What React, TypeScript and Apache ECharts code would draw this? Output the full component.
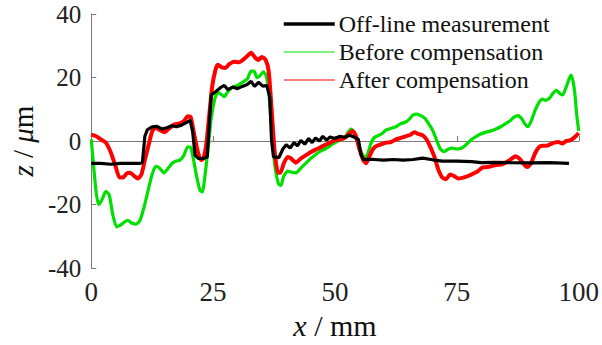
import React, { useEffect, useRef } from "react";
import * as echarts from "echarts";

const xTicks = [0, 25, 50, 75, 100];
const yTicks = [-40, -20, 0, 20, 40];
const seriesNames = ["Off-line measurement", "Before compensation", "After compensation"];

const offline: [number, number][] = [
  [0,-7],[2,-7],[4,-7.3],[6,-7],[8,-7],[10,-7],[10.5,-6.8],[11,1.5],[11.5,3.5],[12.5,4.5],[13.5,4.6],[14.5,3.8],[15.5,4.2],[16.5,4.8],[17.5,4.5],[18.5,5],[19.5,5.8],[20.3,6.5],[20.8,3],[21.3,-4.5],[22,-5.5],[23,-5.5],[23.8,-5],[24.2,5],[24.6,14.5],[25.5,15.5],[26.5,16.8],[27.3,17.5],[28,16.2],[29,17],[30,16.5],[31,17.2],[32,17.8],[32.8,18.8],[33.5,17.2],[34.3,18.5],[35.2,17.3],[36,17.5],[36.6,14],[37,0],[37.4,-5],[38.5,-5.2],[39.3,-2.5],[40,-1.2],[40.8,-2.2],[41.6,-0.5],[42.3,-1.5],[43,0.2],[43.8,-1],[44.6,0.8],[45.3,-0.5],[46,1],[46.8,0],[47.5,1.5],[48.3,0.3],[49,1.3],[50,0.8],[51,1.5],[52,1.2],[53,1.8],[54,1.2],[54.8,0.5],[55.3,-4],[55.8,-5.8],[58,-5.8],[60,-6],[62,-5.8],[64,-6],[66,-5.8],[68,-5.4],[70,-5.9],[72,-6.3],[75,-6.3],[78,-6.5],[80,-6.8],[83,-6.7],[86,-6.8],[90,-6.9],[94,-6.8],[98,-7]
];

const before: [number, number][] = [
  [0,0.5],[0.5,-8],[1,-16],[1.5,-20],[2.2,-18.5],[3,-15.8],[3.7,-17],[4.4,-23],[5.2,-27],[6,-26.5],[6.8,-25.5],[7.5,-25],[8.3,-25.8],[9.2,-26.2],[10,-25],[10.8,-21],[11.6,-16],[12.4,-11],[13.2,-8],[14,-8.5],[14.9,-10],[15.8,-8.5],[16.6,-7],[17.4,-6.3],[18.2,-6],[19,-4.5],[19.8,-1.8],[20.4,-2],[21,-6],[21.6,-11],[22.3,-15.5],[22.8,-16],[23.4,-10],[24,-2],[24.6,7],[25.3,13],[25.9,15.2],[26.6,14.8],[27.3,14],[28,15.5],[29,17],[30,17.5],[31,18.5],[32,19.5],[32.8,22],[33.4,22],[34,20],[34.6,20.5],[35.3,21.8],[35.9,20.5],[36.5,14],[37,4],[37.6,-7],[38.4,-13.5],[38.9,-14],[39.5,-11],[40.3,-9.5],[41,-9.8],[42,-10],[43,-8.5],[44,-7],[45,-5.5],[46,-4.3],[47,-3.2],[48,-2.5],[49,-1.5],[50,-0.5],[51,0.3],[52,1],[52.7,2.8],[53.3,3.8],[54,2.5],[54.7,-0.5],[55.4,-3.5],[56,-5],[56.6,-4.5],[57.3,-1],[58,1],[58.8,1.7],[59.6,2.3],[60.5,3.5],[61.5,4],[62.5,4.5],[63.5,5.5],[64.5,6],[65.3,7],[66,8.2],[66.8,8.5],[67.6,8],[68.4,7.2],[69.2,5.5],[70,3.5],[70.8,0.5],[71.6,-2.5],[72.4,-3.3],[73.2,-2.6],[74,-2.2],[75,-2.5],[76,-2.2],[77,-1],[78,0.5],[79,1.5],[80,2.3],[81,2.8],[82,3.2],[83,3.8],[84,4.5],[85,5.5],[86,6.5],[86.8,7.6],[87.6,8],[88.3,7],[89,5.3],[89.6,4.5],[90.3,6.5],[91,9.5],[91.8,12],[92.5,13.2],[93.2,12.8],[94,13.5],[94.7,15],[95.4,16],[96.1,15],[96.7,14.5],[97.3,16.5],[98,19.5],[98.4,20.8],[98.8,19],[99.2,15],[99.6,8],[100,3.2]
];

const after: [number, number][] = [
  [0,2],[1,1.5],[2,0.5],[3,-0.5],[4,-3.5],[5,-8],[5.8,-11.5],[6.5,-11.5],[7.3,-10.2],[8,-10],[8.8,-11],[9.6,-11.8],[10.3,-10.5],[11,-6],[11.8,-1],[12.5,3],[13.2,4.3],[14,3.5],[15,2.8],[16,4],[17,5.2],[18,5.5],[19,6.3],[19.8,7.8],[20.4,7.5],[21,3],[21.8,-3],[22.5,-6],[23,-5.5],[23.6,-1],[24.2,8],[24.8,17],[25.5,22.5],[26,24],[26.8,23.2],[27.5,23],[28.3,24.2],[29.3,25],[30.3,24.8],[31.3,25.8],[32.3,27.2],[32.8,27.8],[33.5,26.5],[34.2,25.5],[35,26.5],[35.8,25.5],[36.4,22],[37,10],[37.6,-3],[38.3,-10],[38.8,-10],[39.5,-7],[40.3,-5],[41,-5.5],[42,-6.8],[43,-5.5],[44,-4.5],[45,-3.5],[46,-2.7],[47,-2],[48,-1.2],[49,-0.5],[50,0.3],[51,0.5],[52,1],[53,2.5],[53.6,3.2],[54.3,1.5],[55,-2.5],[55.8,-6],[56.4,-7],[57,-5],[57.8,-2.5],[58.6,-1.5],[59.5,-1],[60.5,-0.5],[61.5,-0.3],[62.5,0.5],[63.5,1],[64.5,1.5],[65.5,2],[66.3,2.8],[67,2.3],[68,1.8],[68.8,0.5],[69.6,-2],[70.4,-5],[71.2,-9],[72,-11.5],[72.8,-12],[73.6,-10.5],[74.4,-11],[75.3,-11.8],[76.3,-11.5],[77.3,-11],[78.3,-10.3],[79.3,-9.5],[80.3,-8.3],[81.3,-8.2],[82.3,-7.8],[83.3,-7.5],[84.3,-7.3],[85.3,-6.5],[86.3,-5.5],[87,-4.8],[87.8,-5.5],[88.6,-7],[89.4,-8.2],[90.2,-7],[91,-4],[91.8,-2],[92.6,-1.5],[93.4,-1.5],[94.2,-1],[95,-0.5],[95.8,-0.3],[96.6,-0.8],[97.4,0],[98.2,0.2],[99,1],[100,2.5]
];

const FONT = "Liberation Serif";
const GREEN = "#00e000";
const RED = "#ff0000";
const BLACK = "#000000";

export default function App() {
  const ref = useRef<HTMLDivElement>(null);
  useEffect(() => {
    document.body.style.margin = "0";
    if (!ref.current) return;
    const chart = echarts.init(ref.current, undefined, { renderer: "svg" });
    const axisColor = "#7a7a7a";
    chart.setOption({
      animation: false,
      backgroundColor: "#ffffff",
      textStyle: { fontFamily: FONT },
      grid: { left: 90, right: 21, top: 14, bottom: 76 },
      legend: {
        orient: "vertical",
        left: 282,
        top: 10,
        padding: 0,
        itemWidth: 51,
        itemHeight: 14,
        itemGap: 0,
        itemStyle: { opacity: 0 },
        textStyle: { fontFamily: FONT, fontSize: 24, color: "#111", lineHeight: 28, padding: [0, 0, 0, -1] },
        data: [
          { name: seriesNames[0], lineStyle: { width: 3.5, color: BLACK } },
          { name: seriesNames[1], lineStyle: { width: 1, color: GREEN } },
          { name: seriesNames[2], lineStyle: { width: 1, color: RED } },
        ],
      },
      xAxis: {
        type: "value",
        min: xTicks[0],
        max: xTicks[xTicks.length - 1],
        interval: 25,
        name: "{i|x} / mm",
        nameLocation: "middle",
        nameGap: 36,
        nameTextStyle: {
          fontFamily: FONT,
          fontSize: 30,
          color: "#111",
          rich: { i: { fontStyle: "italic", fontFamily: FONT, fontSize: 30, color: "#111" } },
        },
        axisLine: { show: true, lineStyle: { color: axisColor, width: 1 } },
        axisTick: { show: true, inside: true, length: 5, lineStyle: { color: axisColor } },
        axisLabel: { fontFamily: FONT, fontSize: 27, color: "#222", margin: 10 },
        splitLine: { show: false },
      },
      yAxis: {
        type: "value",
        min: yTicks[0],
        max: yTicks[yTicks.length - 1],
        interval: 20,
        name: "{i|z} / {i|μ}m",
        nameLocation: "middle",
        nameGap: 50,
        nameRotate: 90,
        nameTextStyle: {
          fontFamily: FONT,
          fontSize: 29,
          color: "#111",
          rich: { i: { fontStyle: "italic", fontFamily: FONT, fontSize: 29, color: "#111" } },
        },
        axisLine: { show: true, lineStyle: { color: axisColor, width: 1 } },
        axisTick: { show: true, inside: true, length: 5, lineStyle: { color: axisColor } },
        axisLabel: { fontFamily: FONT, fontSize: 25, color: "#222", margin: 10 },
        splitLine: { show: false },
      },
      series: [
        {
          name: seriesNames[1],
          type: "line",
          data: before,
          showSymbol: false,
          symbol: "none",
          smooth: 0.2,
          itemStyle: { color: GREEN },
          lineStyle: { color: GREEN, width: 3.2 },
          z: 2,
        },
        {
          name: seriesNames[2],
          type: "line",
          data: after,
          showSymbol: false,
          symbol: "none",
          smooth: 0.2,
          itemStyle: { color: RED },
          lineStyle: { color: RED, width: 4 },
          z: 3,
        },
        {
          name: seriesNames[0],
          type: "line",
          data: offline,
          showSymbol: false,
          symbol: "none",
          itemStyle: { color: BLACK },
          lineStyle: { color: BLACK, width: 3.2 },
          z: 4,
        },
      ],
    });
    return () => chart.dispose();
  }, []);
  return <div ref={ref} style={{ width: 602, height: 345 }} />;
}
